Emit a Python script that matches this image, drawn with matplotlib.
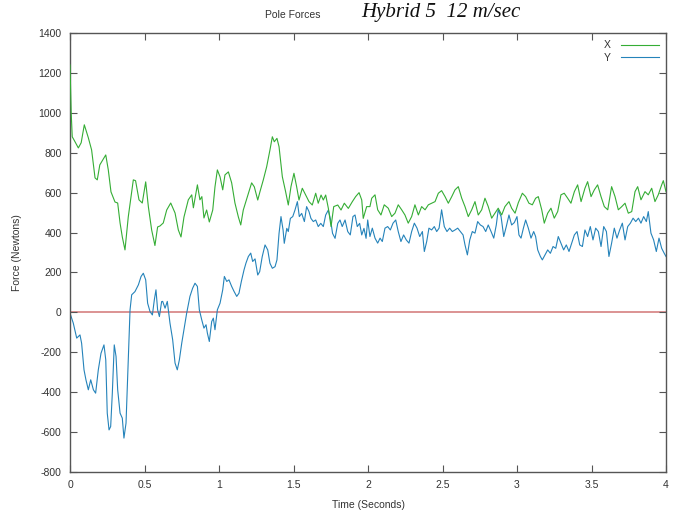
import matplotlib
matplotlib.use("Agg")
import matplotlib.pyplot as plt
import numpy as np

# Pole force X (green)
x_time = [0.000, 0.008, 0.015, 0.030, 0.056, 0.075, 0.096, 0.123, 0.145, 0.168,
          0.183, 0.200, 0.240, 0.257, 0.275, 0.302, 0.320, 0.336, 0.351, 0.369,
          0.391, 0.425, 0.440, 0.463, 0.485, 0.508, 0.526, 0.548, 0.570, 0.588,
          0.604, 0.626, 0.649, 0.676, 0.705, 0.727, 0.745, 0.765, 0.794, 0.817,
          0.828, 0.855, 0.872, 0.885, 0.899, 0.917, 0.935, 0.958, 0.973, 0.989,
          1.007, 1.025, 1.040, 1.063, 1.085, 1.107, 1.130, 1.146, 1.163, 1.190,
          1.219, 1.237, 1.260, 1.275, 1.297, 1.320, 1.342, 1.358, 1.371, 1.389,
          1.403, 1.425, 1.447, 1.465, 1.483, 1.503, 1.521, 1.537, 1.559, 1.582,
          1.604, 1.626, 1.649, 1.666, 1.685, 1.700, 1.716, 1.734, 1.752, 1.770,
          1.797, 1.819, 1.841, 1.868, 1.895, 1.917, 1.940, 1.958, 1.968, 1.991,
          2.013, 2.025, 2.047, 2.065, 2.087, 2.109, 2.136, 2.159, 2.181, 2.203,
          2.226, 2.248, 2.270, 2.293, 2.315, 2.338, 2.360, 2.383, 2.405, 2.427,
          2.450, 2.472, 2.494, 2.517, 2.539, 2.562, 2.584, 2.606, 2.629, 2.651,
          2.673, 2.696, 2.718, 2.740, 2.763, 2.785, 2.807, 2.830, 2.852, 2.874,
          2.897, 2.919, 2.946, 2.964, 2.987, 3.009, 3.036, 3.058, 3.080, 3.103,
          3.125, 3.143, 3.166, 3.183, 3.206, 3.228, 3.250, 3.273, 3.295, 3.317,
          3.340, 3.362, 3.385, 3.407, 3.430, 3.456, 3.474, 3.497, 3.519, 3.541,
          3.564, 3.586, 3.609, 3.635, 3.658, 3.680, 3.703, 3.725, 3.747, 3.770,
          3.792, 3.810, 3.832, 3.859, 3.881, 3.904, 3.926, 3.948, 3.971, 3.982,
          4.000]
x_force = [1240, 1000, 880, 860, 824, 850, 940, 875, 814, 674,
           664, 739, 789, 714, 604, 553, 548, 448, 378, 313,
           478, 664, 660, 564, 548, 654, 529, 413, 335, 428,
           433, 448, 513, 548, 498, 413, 378, 478, 564, 589,
           524, 639, 564, 580, 473, 513, 453, 513, 629, 714,
           679, 614, 689, 704, 649, 548, 478, 438, 513, 579,
           649, 629, 563, 605, 663, 730, 814, 880, 855, 872,
           830, 680, 605, 538, 630, 697, 630, 563, 622, 588,
           555, 538, 597, 547, 588, 563, 588, 521, 430, 530,
           538, 513, 547, 521, 555, 580, 600, 563, 471, 530,
           530, 572, 589, 514, 488, 539, 522, 480, 497, 539,
           514, 488, 447, 480, 539, 488, 530, 514, 539, 547,
           555, 597, 610, 580, 547, 580, 614, 630, 572, 530,
           480, 514, 555, 488, 514, 572, 530, 472, 497, 522,
           488, 530, 555, 522, 497, 550, 597, 580, 547, 539,
           572, 580, 514, 447, 497, 522, 472, 505, 589, 597,
           572, 547, 605, 639, 555, 622, 655, 580, 614, 639,
           580, 530, 514, 630, 580, 514, 530, 547, 497, 505,
           605, 630, 564, 605, 589, 622, 555, 589, 639, 660,
           605]

# Pole force Y (blue)
y_time = [0.000, 0.022, 0.045, 0.067, 0.078, 0.094, 0.107, 0.123, 0.139, 0.157,
          0.172, 0.190, 0.208, 0.228, 0.240, 0.250, 0.262, 0.273, 0.284, 0.297,
          0.309, 0.320, 0.336, 0.351, 0.362, 0.376, 0.387, 0.403, 0.414, 0.436,
          0.459, 0.477, 0.492, 0.508, 0.521, 0.537, 0.553, 0.566, 0.577, 0.588,
          0.600, 0.615, 0.622, 0.638, 0.653, 0.671, 0.689, 0.705, 0.720, 0.734,
          0.750, 0.765, 0.783, 0.805, 0.823, 0.839, 0.855, 0.868, 0.884, 0.899,
          0.913, 0.922, 0.935, 0.951, 0.962, 0.973, 0.989, 1.007, 1.025, 1.036,
          1.052, 1.067, 1.085, 1.101, 1.119, 1.134, 1.150, 1.168, 1.181, 1.197,
          1.213, 1.226, 1.242, 1.260, 1.273, 1.290, 1.309, 1.327, 1.342, 1.358,
          1.376, 1.389, 1.403, 1.416, 1.430, 1.438, 1.455, 1.465, 1.479, 1.495,
          1.510, 1.526, 1.539, 1.555, 1.573, 1.588, 1.604, 1.617, 1.633, 1.649,
          1.666, 1.683, 1.700, 1.716, 1.734, 1.749, 1.762, 1.779, 1.797, 1.812,
          1.827, 1.846, 1.864, 1.881, 1.899, 1.913, 1.928, 1.944, 1.958, 1.973,
          1.987, 1.998, 2.013, 2.029, 2.047, 2.065, 2.081, 2.096, 2.114, 2.132,
          2.150, 2.168, 2.186, 2.203, 2.221, 2.239, 2.257, 2.275, 2.293, 2.311,
          2.329, 2.347, 2.365, 2.378, 2.394, 2.409, 2.427, 2.445, 2.461, 2.477,
          2.494, 2.512, 2.530, 2.548, 2.566, 2.584, 2.602, 2.620, 2.638, 2.651,
          2.667, 2.683, 2.700, 2.718, 2.736, 2.754, 2.772, 2.790, 2.807, 2.826,
          2.844, 2.861, 2.874, 2.893, 2.911, 2.928, 2.946, 2.964, 2.982, 3.000,
          3.013, 3.027, 3.043, 3.058, 3.076, 3.094, 3.112, 3.125, 3.139, 3.157,
          3.170, 3.188, 3.206, 3.224, 3.242, 3.260, 3.277, 3.295, 3.313, 3.331,
          3.349, 3.367, 3.385, 3.403, 3.421, 3.439, 3.456, 3.474, 3.492, 3.510,
          3.528, 3.546, 3.564, 3.582, 3.600, 3.617, 3.635, 3.653, 3.671, 3.689,
          3.707, 3.725, 3.743, 3.761, 3.779, 3.797, 3.815, 3.832, 3.850, 3.868,
          3.881, 3.899, 3.917, 3.935, 3.953, 3.971, 3.988, 4.000]
y_force = [-4, -54, -129, -113, -155, -288, -338, -388, -338, -388,
           -405, -288, -205, -163, -238, -505, -589, -572, -405, -163,
           -221, -388, -505, -530, -630, -555, -322, 13, 88, 104,
           138, 180, 196, 163, 46, 4, -13, 63, 113, 13,
           -21, 54, 55, 21, 55, -54, -137, -254, -288, -238,
           -154, -87, -4, 80, 121, 146, 130, 13, -37, -79,
           -62, -104, -146, -46, -29, -87, 13, 46, 113, 180,
           155, 163, 130, 105, 80, 96, 155, 213, 247, 280,
           297, 255, 268, 187, 204, 279, 338, 313, 246, 221,
           229, 263, 396, 480, 413, 346, 421, 405, 471, 480,
           513, 555, 480, 496, 455, 530, 505, 471, 455, 463,
           430, 446, 430, 488, 513, 463, 396, 371, 446, 463,
           430, 463, 405, 388, 480, 488, 430, 446, 388, 421,
           371, 463, 380, 422, 372, 347, 372, 355, 422, 430,
           413, 447, 463, 405, 355, 388, 363, 347, 405, 447,
           422, 380, 405, 305, 355, 422, 413, 430, 405, 422,
           514, 430, 405, 422, 405, 413, 422, 405, 388, 338,
           288, 363, 405, 397, 455, 438, 430, 405, 438, 405,
           372, 438, 514, 480, 380, 430, 488, 438, 450, 480,
           388, 372, 422, 463, 422, 372, 405, 380, 313, 280,
           263, 288, 313, 296, 330, 321, 380, 347, 313, 338,
           305, 347, 388, 405, 338, 330, 413, 380, 430, 363,
           422, 405, 330, 430, 405, 280, 347, 422, 372, 413,
           447, 363, 430, 447, 472, 455, 472, 447, 480, 455,
           505, 397, 363, 305, 372, 321, 296, 280]

x_ticks = [0, 0.5, 1, 1.5, 2, 2.5, 3, 3.5, 4]
x_tick_labels = ["0", "0.5", "1", "1.5", "2", "2.5", "3", "3.5", "4"]
y_ticks = list(range(-800, 1401, 200))

GREEN = "#35ad35"
BLUE = "#2583ba"
RED = "#d98a8a"
FRAME = "#555555"
TXT = "#333333"

plt.rcParams["font.family"] = ["Liberation Sans", "DejaVu Sans"]
plt.rcParams["axes.unicode_minus"] = False

fig = plt.figure(figsize=(6.75, 5.13), dpi=100, facecolor="white")
ax = fig.add_axes([70 / 675, 1 - 472 / 513, 596 / 675, 439 / 513])

ax.axhline(0, color=RED, lw=1.3, zorder=1)
ax.plot(x_time, x_force, color=GREEN, lw=0.8, label="X", zorder=3)
ax.plot(y_time, y_force, color=BLUE, lw=0.8, label="Y", zorder=2)

ax.set_xlim(0, 4)
ax.set_ylim(-800, 1400)
ax.set_xticks(x_ticks)
ax.set_xticklabels(x_tick_labels)
ax.set_yticks(y_ticks)
ax.set_yticklabels([str(v) for v in y_ticks])
ax.tick_params(direction="in", length=5, width=0.8, color=FRAME,
               labelsize=7.5, labelcolor=TXT, top=True, right=True, pad=6)
for s in ax.spines.values():
    s.set_color(FRAME)
    s.set_linewidth(1.0)

ax.set_xlabel("Time (Seconds)", fontsize=7.5, color=TXT, labelpad=7)
ax.set_ylabel("Force (Newtons)", fontsize=7.5, color=TXT, labelpad=12)

leg = ax.legend(loc="upper right", frameon=False, fontsize=7.5,
                handlelength=3.6, handletextpad=1.0, markerfirst=False,
                labelspacing=0.25, borderaxespad=0.3)
for t in leg.get_texts():
    t.set_color(TXT)

fig.text(293 / 675, 1 - 15 / 513, "Pole Forces", fontsize=7.5, color=TXT,
         ha="center", va="center")
fig.text(441 / 675, 1 - 13 / 513, "Hybrid 5  12 m/sec", fontsize=15,
         family="Liberation Serif", style="italic", color="#111111",
         ha="center", va="center")

fig.savefig("out.png", dpi=100, facecolor="white")
